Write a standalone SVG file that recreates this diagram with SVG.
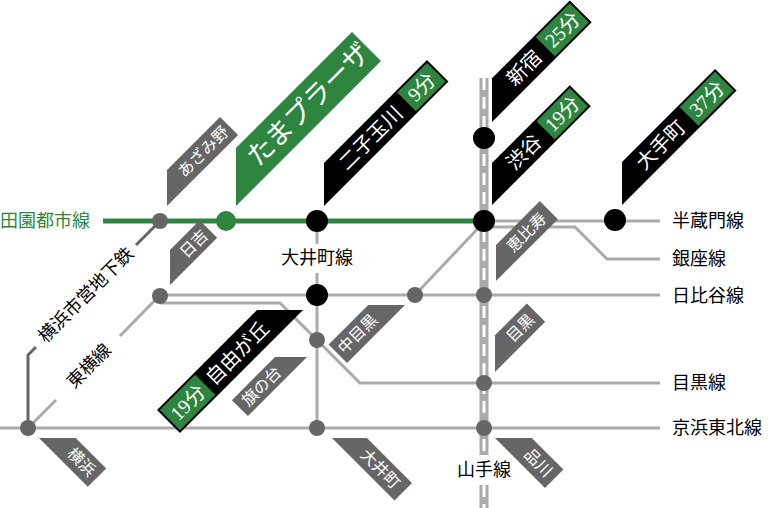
<svg xmlns="http://www.w3.org/2000/svg" width="768" height="508" viewBox="0 0 768 508">
<style>
text{font-family:"Liberation Serif","Noto Sans CJK JP",serif;}
.ln{fill:none;stroke:#aaa;stroke-width:3}
.gy{fill:#666}
.bk{fill:#000}
.gr{fill:#2e8540}
.ft{fill:#fff;font-size:16px;text-anchor:middle;dominant-baseline:central}
.fb{fill:#fff;font-size:20px;text-anchor:middle;dominant-baseline:central}
.lb{fill:#000;font-size:18px;dominant-baseline:central}
.nd{fill:#666}
.nb{fill:#000}
</style>
<rect width="768" height="508" fill="#fff"/>
<g id="connectors">
  <path class="ln" d="M484,221 H660"/>
  <path class="ln" d="M490,227 H575 L607,259 H660"/>
  <path class="ln" d="M160,295 H660"/>
  <path class="ln" d="M415,295 L484,222"/>
  <path class="ln" d="M160,303 H280 L360,383 H660"/>
  <path class="ln" d="M0,428 H660"/>
  <path class="ln" d="M317,221 V244 M317,273 V428"/>
  <path class="ln" d="M28,428 L56,400 M120,336 L160,295"/>
  <path fill="none" stroke="#666" stroke-width="3" d="M28,428 V355 L36,347 M136,245 L160,221"/>
  <path fill="none" stroke="#2e8540" stroke-width="5" d="M103,221 H484"/>
  <path fill="none" stroke="#aaa" stroke-width="9" d="M484,78 V455 M484,485 V508"/>
  <path fill="none" stroke="#fff" stroke-width="3" stroke-dasharray="12,7" d="M484,78 V455 M484,485 V508"/>
</g>
<g id="line-labels">
  <text class="lb" x="0" y="221" style="fill:#2e8540">田園都市線</text>
  <text class="lb" x="672" y="221">半蔵門線</text>
  <text class="lb" x="672" y="259">銀座線</text>
  <text class="lb" x="672" y="296">日比谷線</text>
  <text class="lb" x="672" y="383">目黒線</text>
  <text class="lb" x="672" y="428">京浜東北線</text>
  <text class="lb" x="317" y="258" text-anchor="middle">大井町線</text>
  <rect x="452" y="458" width="64" height="26" fill="#fff"/>
  <text class="lb" x="484" y="470" text-anchor="middle">山手線</text>
  <text class="lb" x="0" y="0" text-anchor="middle" transform="translate(86,295) rotate(-45)">横浜市営地下鉄</text>
  <text class="lb" x="0" y="0" text-anchor="middle" transform="translate(89,366) rotate(-45)">東横線</text>
</g>
<g id="nodes">
  <circle class="nd" cx="160" cy="221" r="8"/>
  <circle cx="226" cy="221" r="10" fill="#2e8540"/>
  <circle class="nb" cx="317" cy="221" r="11"/>
  <circle class="nb" cx="484" cy="221" r="11"/>
  <circle class="nb" cx="484" cy="138" r="11"/>
  <circle class="nb" cx="615" cy="220" r="11"/>
  <circle class="nd" cx="160" cy="296" r="8"/>
  <circle class="nb" cx="317" cy="295" r="11"/>
  <circle class="nd" cx="415" cy="295" r="8"/>
  <circle class="nd" cx="484" cy="295" r="8"/>
  <circle class="nd" cx="317" cy="340" r="8"/>
  <circle class="nd" cx="484" cy="383" r="8"/>
  <circle class="nd" cx="28" cy="428" r="8"/>
  <circle class="nd" cx="317" cy="428" r="8"/>
  <circle class="nd" cx="484" cy="428" r="8"/>
</g>
<g id="flag-azamino" transform="translate(167,206) rotate(-45)">
  <polygon class="gy" points="0,0 25.5,-25.5 100.5,-25.5 100.5,0"/>
  <text class="ft" x="64" y="-12.7">あざみ野</text>
</g>
<g id="flag-tamaplaza" transform="translate(236,206) rotate(-45)">
  <polygon class="gr" points="0,0 41,-41 205,-41 205,0"/>
  <text class="ft" x="123" y="-20.5" style="font-size:27px">たまプラーザ</text>
</g>
<g id="flag-futako" transform="translate(324,206) rotate(-45)">
  <polygon class="bk" points="0,0 30.4,-30.4 176,-30.4 176,0"/>
  <rect class="gr" x="132" y="-28.4" width="42" height="26.4"/>
  <text class="fb" x="81" y="-15.2">二子玉川</text>
  <text class="fb" x="153" y="-15.2">9分</text>
</g>
<g id="flag-shinjuku" transform="translate(492,122) rotate(-45)">
  <polygon class="bk" points="0,0 31,-31 141,-31 141,0"/>
  <rect class="gr" x="91" y="-29" width="48" height="27"/>
  <text class="fb" x="61" y="-15.5">新宿</text>
  <text class="fb" x="115" y="-15.5">25分</text>
</g>
<g id="flag-shibuya" transform="translate(492,205) rotate(-45)">
  <polygon class="bk" points="0,0 29.7,-29.7 139.7,-29.7 139.7,0"/>
  <rect class="gr" x="90.7" y="-27.7" width="47" height="25.7"/>
  <text class="fb" x="60" y="-14.8">渋谷</text>
  <text class="fb" x="114" y="-14.8">19分</text>
</g>
<g id="flag-otemachi" transform="translate(622,205) rotate(-45)">
  <polygon class="bk" points="0,0 30.4,-30.4 162,-30.4 162,0"/>
  <rect class="gr" x="110" y="-28.4" width="50" height="26.4"/>
  <text class="fb" x="70" y="-15.2">大手町</text>
  <text class="fb" x="135" y="-15.2">37分</text>
</g>
<g id="flag-hiyoshi" transform="translate(170,285) rotate(-45)">
  <polygon class="gy" points="0,0 24.7,-24.7 66.7,-24.7 66.7,0"/>
  <text class="ft" x="46" y="-12.3">日吉</text>
</g>
<g id="flag-ebisu" transform="translate(496,281) rotate(-45)">
  <polygon class="gy" points="0,0 25.5,-25.5 87.5,-25.5 87.5,0"/>
  <text class="ft" x="56" y="-12.7">恵比寿</text>
</g>
<g id="flag-meguro" transform="translate(495,372) rotate(-45)">
  <polygon class="gy" points="0,0 26,-26 71,-26 71,0"/>
  <text class="ft" x="49" y="-13">目黒</text>
</g>
<g id="flag-jiyugaoka" transform="translate(303,310) rotate(-45)">
  <polygon class="bk" points="0,0 -32.5,-32.5 -174,-32.5 -174,0"/>
  <rect class="gr" x="-172" y="-30.5" width="50" height="28.5"/>
  <text class="fb" x="-77" y="-16">自由が丘</text>
  <text class="fb" x="-147" y="-16">19分</text>
</g>
<g id="flag-hatanodai" transform="translate(307,357) rotate(-45)">
  <polygon class="gy" points="0,0 -22.6,-22.6 -83.6,-22.6 -83.6,0"/>
  <text class="ft" x="-53" y="-11.3">旗の台</text>
</g>
<g id="flag-nakameguro" transform="translate(405,305) rotate(-45)">
  <polygon class="gy" points="0,0 -26,-26 -82,-26 -82,0"/>
  <text class="ft" x="-54" y="-13">中目黒</text>
</g>
<g id="flag-yokohama" transform="translate(39,438) rotate(45)">
  <polygon class="gy" points="0,0 26,-26 69,-26 69,0"/>
  <text class="ft" x="47" y="-13">横浜</text>
</g>
<g id="flag-oimachi" transform="translate(332,438) rotate(45)">
  <polygon class="gy" points="0,0 24.7,-24.7 88.4,-24.7 88.4,0"/>
  <text class="ft" x="56" y="-12.3">大井町</text>
</g>
<g id="flag-shinagawa" transform="translate(495,438) rotate(45)">
  <polygon class="gy" points="0,0 26,-26 70.7,-26 70.7,0"/>
  <text class="ft" x="48" y="-13">品川</text>
</g>
</svg>
